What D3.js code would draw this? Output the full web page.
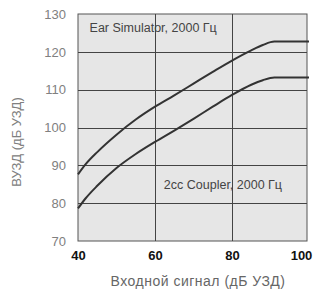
<!DOCTYPE html>
<html>
<head>
<meta charset="utf-8">
<script src="https://cdn.jsdelivr.net/npm/d3@7"></script>
<style>
  body { margin: 0; background: #fff; }
  svg { display: block; font-family: "Liberation Sans", Arial, sans-serif; }
</style>
</head>
<body>
<div id="chart"></div>
<script>
var width = 318;
var height = 292;
var margin = {top: 14, right: 10, bottom: 51, left: 78};

// input level (dB SPL)
const xVals = [40, 42, 45, 50, 55, 60, 65, 70, 75, 80, 85, 88, 91, 100];
// Ear Simulator, 2000 Hz
const earSim = [87.6, 90.3, 93.5, 98.1, 102.1, 105.5, 108.5, 111.6, 114.7, 117.7, 120.4, 121.8, 122.7, 122.7];
// 2cc Coupler, 2000 Hz
const coupler = [78.6, 81.3, 84.6, 89.3, 93.0, 96.2, 99.2, 102.3, 105.5, 108.6, 111.3, 112.5, 113.2, 113.2];

const xTicks = [40, 60, 80, 100];
const yTicks = [70, 80, 90, 100, 110, 120, 130];

var svg = d3.select("#chart").append("svg")
  .attr("width", width)
  .attr("height", height);

var x = d3.scaleLinear().domain([40, 100]).range([margin.left, width - margin.right + 1]);
var y = d3.scaleLinear().domain([70, 130]).range([height - margin.bottom, margin.top]);

// plot background
svg.append("rect")
  .attr("x", x(40)).attr("y", y(130))
  .attr("width", x(100) - x(40) - 2).attr("height", y(70) - y(130))
  .attr("fill", "#e6e6e6")
  .attr("stroke", "#555")
  .attr("stroke-width", 1);

// gridlines
svg.append("g")
  .selectAll("line.h")
  .data(yTicks.slice(1, -1)).enter()
  .append("line")
  .attr("x1", x(40)).attr("x2", x(100) - 2)
  .attr("y1", d => Math.round(y(d)) + 0.5).attr("y2", d => Math.round(y(d)) + 0.5)
  .attr("stroke", "#444").attr("stroke-width", 1);

svg.append("g")
  .selectAll("line.v")
  .data(xTicks.slice(1, -1)).enter()
  .append("line")
  .attr("x1", d => Math.round(x(d)) + 0.5).attr("x2", d => Math.round(x(d)) + 0.5)
  .attr("y1", y(130)).attr("y2", y(70))
  .attr("stroke", "#444").attr("stroke-width", 1);

// axes (labels only)
var xAxis = d3.axisBottom(x).tickValues(xTicks).tickSize(0).tickPadding(10);
var yAxis = d3.axisLeft(y).tickValues(yTicks).tickSize(0).tickPadding(12);

var gx = svg.append("g")
  .attr("transform", `translate(0, ${y(70)})`)
  .call(xAxis);
gx.select(".domain").remove();
gx.selectAll("text")
  .attr("font-size", 13)
  .attr("font-weight", "bold")
  .attr("font-family", "Liberation Sans, Arial, sans-serif")
  .attr("fill", "#111")
  .attr("dx", d => d === 100 ? -8 : 0);

var gy = svg.append("g")
  .attr("transform", `translate(${x(40)}, 0)`)
  .call(yAxis);
gy.select(".domain").remove();
gy.selectAll("text")
  .attr("font-size", 13)
  .attr("font-family", "Liberation Sans, Arial, sans-serif")
  .attr("fill", "#808080");

// curves
var line = d3.line()
  .x((d, i) => x(xVals[i]))
  .y(d => y(d))
  .curve(d3.curveMonotoneX);

[earSim, coupler].forEach(s => {
  svg.append("path")
    .attr("d", line(s))
    .attr("fill", "none")
    .attr("stroke", "#333")
    .attr("stroke-width", 2);
});

// annotations
svg.append("text")
  .attr("x", x(43)).attr("y", y(125.3))
  .attr("font-size", 12.5)
  .attr("fill", "#444")
  .text("Ear Simulator, 2000 Гц");

svg.append("text")
  .attr("x", x(62.3)).attr("y", y(83.7))
  .attr("font-size", 12.5)
  .attr("fill", "#444")
  .text("2cc Coupler, 2000 Гц");

// axis titles
svg.append("text")
  .attr("x", 198).attr("y", 286)
  .attr("text-anchor", "middle")
  .attr("font-size", 14)
  .attr("letter-spacing", 0.5)
  .attr("fill", "#666")
  .text("Входной сигнал (дБ УЗД)");

svg.append("text")
  .attr("transform", "translate(21, 142) rotate(-90)")
  .attr("text-anchor", "middle")
  .attr("font-size", 13)
  .attr("fill", "#808080")
  .text("ВУЗД (дБ УЗД)");
</script>
</body>
</html>
